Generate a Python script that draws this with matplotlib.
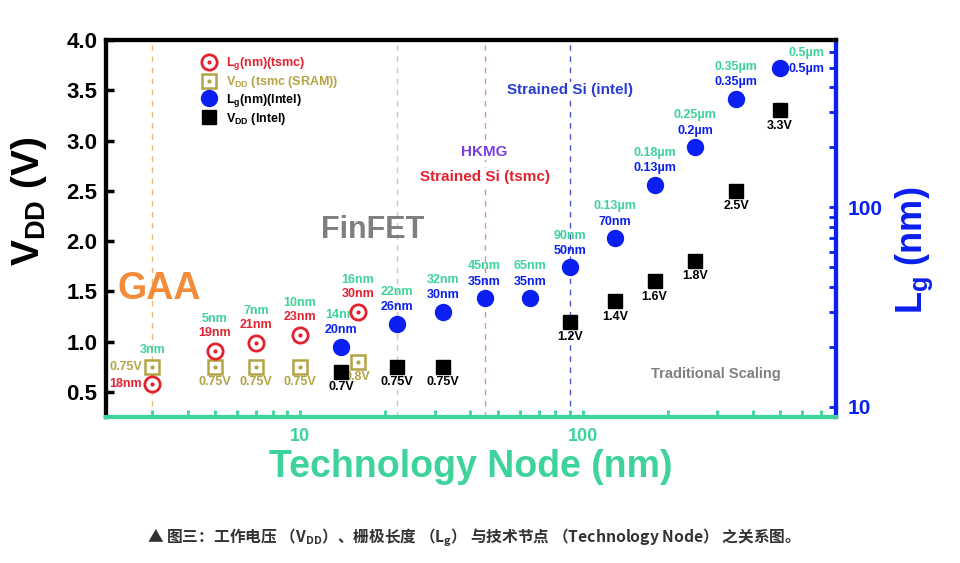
import matplotlib
matplotlib.use("Agg")
import matplotlib.pyplot as plt
from matplotlib.ticker import FixedLocator, NullFormatter, LogLocator
from matplotlib.legend_handler import HandlerTuple

plt.rcParams['font.family'] = ['Liberation Sans', 'DejaVu Sans']
plt.rcParams['font.weight'] = 'bold'
plt.rcParams['mathtext.fontset'] = 'custom'
plt.rcParams['mathtext.rm'] = 'Liberation Sans:bold'
plt.rcParams['mathtext.bf'] = 'Liberation Sans:bold'
plt.rcParams['mathtext.it'] = 'Liberation Sans:bold'

# data
tsmc_nodes = [3, 5, 7, 10, 16]
tsmc_node_labels = ['3nm', '5nm', '7nm', '10nm', '16nm']
tsmc_lg = [13, 19, 21, 23, 30]
tsmc_lg_labels = ['18nm', '19nm', '21nm', '23nm', '30nm']
tsmc_vdd = [0.75, 0.75, 0.75, 0.75, 0.8]
tsmc_vdd_labels = ['0.75V', '0.75V', '0.75V', '0.75V', '0.8V']

intel_nodes = [14, 22, 32, 45, 65, 90, 130, 180, 250, 350, 500]
intel_node_labels = ['14nm', '22nm', '32nm', '45nm', '65nm', '90nm',
                     '0.13µm', '0.18µm', '0.25µm', '0.35µm', '0.5µm']
intel_lg = [20, 26, 30, 35, 35, 50, 70, 130, 200, 350, 500]
intel_lg_labels = ['20nm', '26nm', '30nm', '35nm', '35nm', '50nm',
                   '70nm', '0.13µm', '0.2µm', '0.35µm', '0.5µm']
vdd_nodes = [14, 22, 32, 90, 130, 180, 250, 350, 500]
intel_vdd = [0.7, 0.75, 0.75, 1.2, 1.4, 1.6, 1.8, 2.5, 3.3]
intel_vdd_labels = ['0.7V', '0.75V', '0.75V', '1.2V', '1.4V', '1.6V', '1.8V', '2.5V', '3.3V']

era_nodes = [3, 22, 45, 90]
era_colors = ['#f0b878', '#dcc0c8', '#ec8a8a', '#4a5ac8']

RED = '#e3222f'
OLIVE = '#b3a446'
BLUE = '#0a1ff0'
GREEN = '#3dd39a'
BLACK = '#000000'

fig = plt.figure(figsize=(9.6, 5.63), dpi=100)
ax = fig.add_axes([0.110, 0.2593, 0.761, 0.6696])
ax2 = ax.twinx()

ax.set_xscale('log')
ax.set_xlim(2.05, 790)
ax.set_ylim(0.25, 4.0)
ax2.set_yscale('log')
ax2.set_ylim(8.9, 690)

for xv, c in zip(era_nodes, era_colors):
    ax.axvline(xv, color=c, lw=1.0, ls=(0, (4, 4)), zorder=1)

# tsmc
ax.plot(tsmc_nodes, tsmc_vdd, ls='none', marker='s', ms=10, mfc='white', mec=OLIVE, mew=1.8, zorder=4)
ax.plot(tsmc_nodes, tsmc_vdd, ls='none', marker='o', ms=2, color=OLIVE, zorder=5)
ax2.plot(tsmc_nodes, tsmc_lg, ls='none', marker='o', ms=11, mfc='white', mec=RED, mew=2, zorder=4)
ax2.plot(tsmc_nodes, tsmc_lg, ls='none', marker='o', ms=2, color=RED, zorder=5)

# intel
ax.plot(vdd_nodes, intel_vdd, ls='none', marker='s', ms=10, color=BLACK, zorder=4)
ax2.plot(intel_nodes, intel_lg, ls='none', marker='o', ms=11.5, color=BLUE, zorder=4)

lab = dict(fontsize=9, fontweight='bold', ha='center', va='center', textcoords='offset points')

for i, (x, y) in enumerate(zip(tsmc_nodes, tsmc_lg)):
    if i == 0:
        ax2.annotate(tsmc_lg_labels[i], (x, y), xytext=(-19, 0), color=RED, **lab)
    else:
        ax2.annotate(tsmc_node_labels[i], (x, y), xytext=(0, 23), color=GREEN, **lab)
        ax2.annotate(tsmc_lg_labels[i], (x, y), xytext=(0, 13), color=RED, **lab)
for i, (x, y) in enumerate(zip(tsmc_nodes, tsmc_vdd)):
    if i == 0:
        ax.annotate(tsmc_node_labels[0], (x, y), xytext=(0, 12), color=GREEN, **lab)
        ax.annotate(tsmc_vdd_labels[0], (x, y), xytext=(-19, 0), color=OLIVE, **lab)
    else:
        ax.annotate(tsmc_vdd_labels[i], (x, y), xytext=(0, -11), color=OLIVE, **lab)

for i, (x, y) in enumerate(zip(intel_nodes, intel_lg)):
    if i == len(intel_nodes) - 1:
        ax2.annotate(intel_node_labels[i], (x, y), xytext=(6, 11), color=GREEN,
                     fontsize=9, fontweight='bold', ha='left', va='center', textcoords='offset points')
        ax2.annotate(intel_lg_labels[i], (x, y), xytext=(6, -1), color=BLUE,
                     fontsize=9, fontweight='bold', ha='left', va='center', textcoords='offset points')
    else:
        ax2.annotate(intel_node_labels[i], (x, y), xytext=(0, 23), color=GREEN, **lab)
        ax2.annotate(intel_lg_labels[i], (x, y), xytext=(0, 12), color=BLUE, **lab)
for x, y, t in zip(vdd_nodes, intel_vdd, intel_vdd_labels):
    ax.annotate(t, (x, y), xytext=(0, -11), color=BLACK, **lab)

# era texts
ax.text(0.016, 0.34, 'GAA', transform=ax.transAxes, color='#f28b3a', fontsize=27, fontweight='bold', ha='left', va='center')
ax.text(0.365, 0.495, 'FinFET', transform=ax.transAxes, color='#7f7f7f', fontsize=22, fontweight='bold', ha='center', va='center')
ax.text(45, 2.89, 'HKMG', color='#7b3fe0', fontsize=11, fontweight='bold', ha='center', va='center',
        bbox=dict(fc='white', ec='none', pad=1), zorder=3)
ax.text(45, 2.64, 'Strained Si (tsmc)', color=RED, fontsize=11, fontweight='bold', ha='center', va='center',
        bbox=dict(fc='white', ec='none', pad=1), zorder=3)
ax.text(90, 3.5, 'Strained Si (intel)', color='#2a3fd0', fontsize=11, fontweight='bold', ha='center', va='center',
        bbox=dict(fc='white', ec='none', pad=1), zorder=3)
ax.text(0.835, 0.115, 'Traditional Scaling', transform=ax.transAxes, color='#808080', fontsize=10.5,
        fontweight='bold', ha='center', va='center')

# axes styling
ax.set_yticks([0.5, 1.0, 1.5, 2.0, 2.5, 3.0, 3.5, 4.0])
ax.set_yticklabels(['0.5', '1.0', '1.5', '2.0', '2.5', '3.0', '3.5', '4.0'])
ax.tick_params(axis='y', direction='in', length=6, width=2.5, colors=BLACK, labelsize=16, pad=6)
ax.xaxis.set_major_locator(FixedLocator([10, 100]))
ax.xaxis.set_minor_locator(LogLocator(base=10, subs=range(2, 10)))
ax.xaxis.set_minor_formatter(NullFormatter())
ax.set_xticklabels(['10', '100'])
ax.tick_params(axis='x', which='both', direction='in', length=5, width=2, colors=GREEN, labelsize=13, pad=8)
ax2.yaxis.set_major_locator(FixedLocator([10, 100]))
ax2.set_yticklabels(['10', '100'])
ax2.yaxis.set_minor_locator(LogLocator(base=10, subs=range(2, 10)))
ax2.yaxis.set_minor_formatter(NullFormatter())
ax2.tick_params(axis='y', which='both', direction='in', length=5, width=2, colors=BLUE, labelsize=15, pad=8)

for a in (ax, ax2):
    a.spines['left'].set_color(BLACK)
    a.spines['top'].set_color(BLACK)
    a.spines['bottom'].set_color(GREEN)
    a.spines['right'].set_color(BLUE)
    for s in a.spines.values():
        s.set_linewidth(3)

ax.set_ylabel(r'$\mathbf{V_{DD}}$ (V)', fontsize=28, fontweight='bold', color=BLACK)
ax.yaxis.set_label_coords(-0.077, 0.573)
ax.set_xlabel('Technology Node (nm)', fontsize=27, fontweight='bold', color=GREEN, labelpad=3)
ax2.set_ylabel(r'$\mathbf{L_g}$ (nm)', fontsize=26, fontweight='bold', color=BLUE)
ax2.yaxis.set_label_coords(1.078, 0.443)

# legend
h1 = (plt.Line2D([], [], ls='none', marker='o', ms=11, mfc='white', mec=RED, mew=2),
      plt.Line2D([], [], ls='none', marker='o', ms=2, color=RED))
h2 = (plt.Line2D([], [], ls='none', marker='s', ms=10, mfc='white', mec=OLIVE, mew=1.8),
      plt.Line2D([], [], ls='none', marker='o', ms=2, color=OLIVE))
h3 = plt.Line2D([], [], ls='none', marker='o', ms=11.5, color=BLUE)
h4 = plt.Line2D([], [], ls='none', marker='s', ms=10, color=BLACK)
leg = ax2.legend([h1, h2, h3, h4],
                 [r'$\mathbf{L_g}$(nm)(tsmc)', r'$\mathbf{V_{DD}}$ (tsmc (SRAM))',
                  r'$\mathbf{L_g}$(nm)(Intel)', r'$\mathbf{V_{DD}}$ (Intel)'],
                 handler_map={tuple: HandlerTuple(ndivide=1, pad=0)},
                 loc='upper left', bbox_to_anchor=(0.113, 0.99), frameon=False,
                 prop={'size': 9, 'weight': 'bold'}, handletextpad=0.6, labelspacing=0.15,
                 handlelength=1.5)
for t, c in zip(leg.get_texts(), [RED, OLIVE, BLACK, BLACK]):
    t.set_color(c)

# caption
fig.text(0.489, 0.045,
         r'▲ 图三：工作电压 （$\mathregular{V_{DD}}$）、栅极长度 （$\mathregular{L_g}$） 与技术节点 （Technology Node） 之关系图。',
         family=['Noto Sans CJK SC', 'DejaVu Sans'], fontsize=11.3, fontweight='bold', color='#333333',
         ha='center', va='center')

fig.savefig('out.png', dpi=100, facecolor='white')
